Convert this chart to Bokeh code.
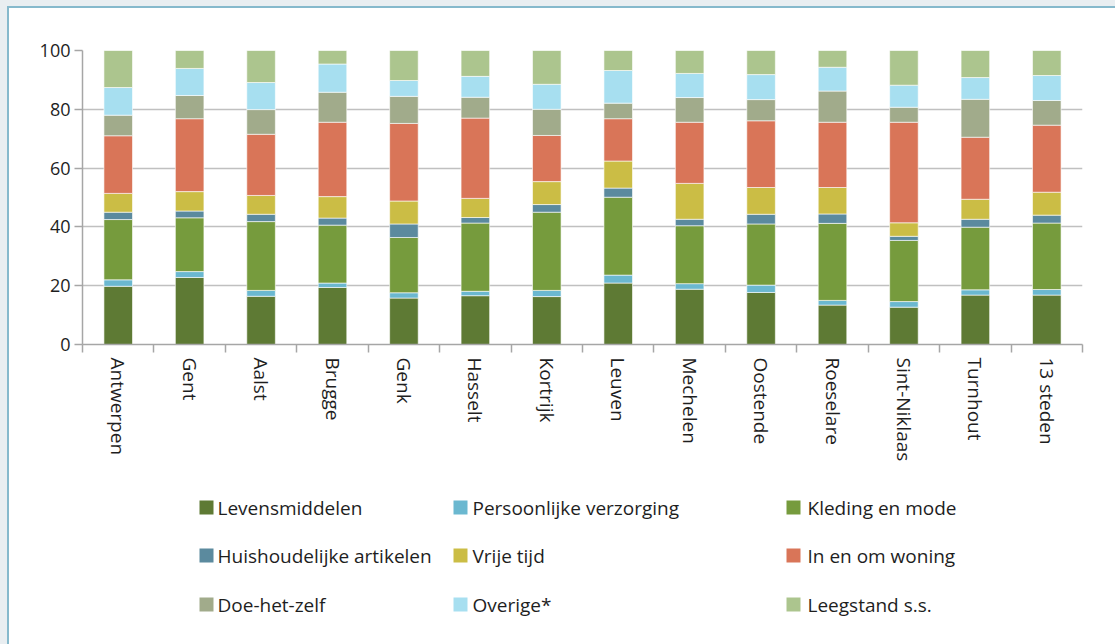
from bokeh.plotting import figure
from bokeh.layouts import column
from bokeh.models import (Range1d, FixedTicker, ColumnDataSource)
from bokeh.core.properties import value
from bokeh.embed import file_html
from bokeh.resources import INLINE

# ---------------- data ----------------
cities = ["Antwerpen", "Gent", "Aalst", "Brugge", "Genk", "Hasselt", "Kortrijk",
          "Leuven", "Mechelen", "Oostende", "Roeselare", "Sint-Niklaas",
          "Turnhout", "13 steden"]

series_names = ["Levensmiddelen", "Persoonlijke verzorging", "Kleding en mode",
                "Huishoudelijke artikelen", "Vrije tijd", "In en om woning",
                "Doe-het-zelf", "Overige*", "Leegstand s.s."]

levensmiddelen = [19.8, 22.8, 16.4, 19.4, 15.8, 16.6, 16.3, 20.9, 18.8, 17.7, 13.4, 12.7, 16.8, 16.8]
persoonlijke_verzorging = [2.2, 2.0, 2.0, 1.5, 1.8, 1.5, 2.1, 2.7, 1.9, 2.5, 1.6, 1.9, 1.8, 1.9]
kleding_en_mode = [20.5, 18.3, 23.4, 19.7, 18.8, 23.2, 26.6, 26.5, 19.7, 20.8, 26.2, 20.8, 21.3, 22.6]
huishoudelijke_artikelen = [2.5, 2.3, 2.5, 2.4, 4.6, 1.9, 2.6, 3.1, 2.2, 3.3, 3.2, 1.4, 2.7, 2.7]
vrije_tijd = [6.4, 6.6, 6.4, 7.3, 7.8, 6.5, 7.8, 9.2, 12.2, 9.1, 9.0, 4.6, 6.8, 7.8]
in_en_om_woning = [19.6, 24.8, 20.8, 25.3, 26.4, 27.3, 15.7, 14.4, 20.8, 22.7, 22.2, 34.2, 21.1, 22.8]
doe_het_zelf = [7.0, 7.9, 8.4, 10.2, 9.2, 7.1, 8.9, 5.3, 8.4, 7.2, 10.6, 5.1, 12.9, 8.4]
overige = [9.4, 9.2, 9.2, 9.6, 5.4, 7.1, 8.5, 11.1, 8.2, 8.5, 8.1, 7.5, 7.4, 8.5]
leegstand = [12.6, 6.1, 10.9, 4.6, 10.2, 8.8, 11.5, 6.8, 7.8, 8.2, 5.7, 11.8, 9.2, 8.5]

y_ticks = [0, 20, 40, 60, 80, 100]

# ---------------- style ----------------
colors = ["#5e7a34", "#6bb8d0", "#769b3d", "#5b8a9e", "#cbbd45",
          "#d97558", "#a1ab8b", "#a7dff0", "#acc58e"]
FONT = "Open Sans"
TXT = "#1e1e1e"
GRID = "#c0c0c0"
AXIS = "#a6a6a6"

series_values = [levensmiddelen, persoonlijke_verzorging, kleding_en_mode,
                 huishoudelijke_artikelen, vrije_tijd, in_en_om_woning,
                 doe_het_zelf, overige, leegstand]

n = len(cities)
centers = [i + 0.5 for i in range(n)]
bounds = list(range(n + 1))
data = {"x": centers}
keys = []
for i, vals in enumerate(series_values):
    k = "s%d" % i
    keys.append(k)
    data[k] = vals
src = ColumnDataSource(data)

W = 1106
BL, BR, BT = 73, 33, 42
H1 = 462
p = figure(x_range=Range1d(0, n), y_range=Range1d(0, 100),
           width=W, height=H1, output_backend="svg", toolbar_location=None,
           min_border_left=BL, min_border_right=BR,
           min_border_top=BT, min_border_bottom=H1 - BT - 294)
p.outline_line_color = None
p.background_fill_color = "white"
p.border_fill_color = "white"

p.vbar_stack(keys, x="x", width=0.4, source=src, color=colors,
             line_color="white", line_width=1, line_alpha=0.6)

# y axis
ya = p.yaxis[0]
ya.ticker = FixedTicker(ticks=y_ticks)
ya.major_tick_out = 8
ya.major_tick_in = 0
ya.minor_tick_line_color = None
ya.axis_line_color = AXIS
ya.axis_line_width = 1.5
ya.major_tick_line_color = AXIS
ya.major_tick_line_width = 1.5
ya.major_label_standoff = 4
ya.major_label_text_font = FONT
ya.major_label_text_font_size = "18px"
ya.major_label_text_color = TXT
p.ygrid.grid_line_color = GRID
p.ygrid.grid_line_width = 1.5
p.ygrid.ticker = FixedTicker(ticks=y_ticks)
p.xgrid.grid_line_color = None

# x axis: names at bar centres, tick marks between categories (minor ticks)
xa = p.xaxis[0]
xa.ticker = FixedTicker(ticks=centers, minor_ticks=bounds)
xa.major_label_overrides = {c: name for c, name in zip(centers, cities)}
xa.major_label_orientation = "vertical"
xa.major_tick_line_color = None
xa.major_tick_out = 8
xa.major_tick_in = 0
xa.minor_tick_out = 8
xa.minor_tick_in = 0
xa.minor_tick_line_color = AXIS
xa.minor_tick_line_width = 1.5
xa.axis_line_color = AXIS
xa.axis_line_width = 1.5
xa.major_label_standoff = 5
xa.major_label_text_font = FONT
xa.major_label_text_font_size = "19px"
xa.major_label_text_color = TXT

# ---------------- legend (separate panel, frame aligned with chart) ----------------
H2 = 174
leg = figure(width=W, height=H2, x_range=Range1d(BL, W - BR), y_range=Range1d(H2, 0),
             output_backend="svg", toolbar_location=None,
             min_border_left=BL, min_border_right=BR, min_border_top=0,
             min_border_bottom=0, x_axis_location=None, y_axis_location=None)
leg.outline_line_color = None
leg.xgrid.grid_line_color = None
leg.ygrid.grid_line_color = None
leg.border_fill_color = "white"
leg.background_fill_color = "white"

col_swatch = [197, 451, 784]
col_text = [208, 463, 798]
row_y = [37, 85, 134]
sx, sy, tx, ty = [], [], [], []
for i, name in enumerate(series_names):
    r, c = divmod(i, 3)
    sx.append(col_swatch[c]); sy.append(row_y[r])
    tx.append(col_text[c]); ty.append(row_y[r])
lsrc = ColumnDataSource(dict(sx=sx, sy=sy, tx=tx, ty=ty, name=series_names, color=colors))
leg.rect(x="sx", y="sy", width=14, height=14, width_units="screen",
         height_units="screen", fill_color="color", line_color=None, source=lsrc)
leg.text(x="tx", y="ty", text="name", source=lsrc, text_font=value(FONT),
         text_font_size="19px", text_color=TXT, text_baseline="middle",
         text_align="left")

inner = column(p, leg, spacing=0,
               styles={"border-top": "2px solid #86b9cc",
                       "border-left": "2px solid #86b9cc",
                       "background-color": "white"})
layout = column(inner, spacing=0,
                styles={"background-color": "#e9eef1",
                        "padding-top": "6px", "padding-left": "7px"})

open("out.html", "w").write(file_html(layout, INLINE))
